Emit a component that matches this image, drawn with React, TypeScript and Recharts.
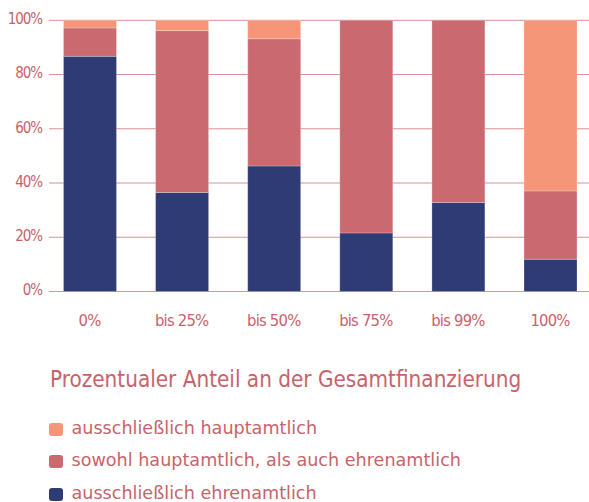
import React from 'react';
import { BarChart, Bar, XAxis, YAxis, CartesianGrid, Legend } from 'recharts';

const categories = ['0%', 'bis 25%', 'bis 50%', 'bis 75%', 'bis 99%', '100%'];
const nurEhrenamtlich = [86.7, 36.5, 46.3, 21.6, 32.8, 11.9];
const beides = [10.5, 59.7, 46.9, 78.4, 67.2, 25.2];
const nurHauptamtlich = [2.8, 3.8, 6.8, 0, 0, 62.9];
const yTicks = [0, 20, 40, 60, 80, 100];

const legendTitle = 'Prozentualer Anteil an der Gesamtfinanzierung';
const nameEhren = 'ausschließlich ehrenamtlich';
const nameBeides = 'sowohl hauptamtlich, als auch ehrenamtlich';
const nameHaupt = 'ausschließlich hauptamtlich';
const legendOrder = [nameHaupt, nameBeides, nameEhren];

const BLUE = '#2e3b74';
const RED = '#ca6a70';
const ORANGE = '#f59678';
const TEXT = '#c8636b';
const GRID = '#dc8f94';

const data = categories.map((cat, i) => ({
  cat,
  ehren: nurEhrenamtlich[i],
  beides: beides[i],
  haupt: nurHauptamtlich[i],
}));

const tickFont = '"DejaVu Sans Condensed", sans-serif';

const renderLegend = (props: any) => {
  const items = [...(props.payload || [])].sort(
    (a: any, b: any) => legendOrder.indexOf(a.value) - legendOrder.indexOf(b.value)
  );
  return (
    <div style={{ width: 589, fontFamily: '"DejaVu Sans", sans-serif', color: TEXT }}>
      <div
        style={{
          fontFamily: '"DejaVu Sans Condensed", sans-serif',
          fontSize: 22.3,
          lineHeight: '26px',
          height: 26,
          paddingLeft: 50,
          whiteSpace: 'nowrap',
        }}
      >
        {legendTitle}
      </div>
      <div style={{ height: 19.7 }} />
      {items.map((it: any) => (
        <div
          key={it.value}
          style={{ position: 'relative', height: 32.5, lineHeight: '32.5px', fontSize: 17.6, whiteSpace: 'nowrap' }}
        >
          <span
            style={{
              position: 'absolute',
              left: 48.5,
              top: 11,
              width: 14,
              height: 13,
              borderRadius: 3,
              background: it.color,
            }}
          />
          <span style={{ position: 'absolute', left: 71.5, top: 0 }}>{it.value}</span>
        </div>
      ))}
    </div>
  );
};

export default function App() {
  return (
    <div style={{ position: 'absolute', left: 0, top: 0, width: 589, height: 502, overflow: 'hidden', background: '#fff' }}>
      <BarChart
        width={597}
        height={502}
        data={data}
        margin={{ top: 20.3, right: 0.9, bottom: 180.5, left: 0 }}
      >
        <CartesianGrid x={49} width={560} horizontal={true} vertical={false} stroke={GRID} strokeWidth={1} />
        <XAxis
          dataKey="cat"
          tickLine={false}
          axisLine={false}
          tickSize={0}
          tickMargin={23}
          interval={0}
          tick={{ fill: TEXT, fontSize: 16.5, fontFamily: tickFont, letterSpacing: -0.8 }}
        />
        <YAxis
          width={43.5}
          domain={[0, 100]}
          ticks={yTicks}
          tickFormatter={(v: number) => `${v}%`}
          tickLine={false}
          axisLine={false}
          tickSize={0}
          tickMargin={1.5}
          tick={{ fill: TEXT, fontSize: 15, fontFamily: tickFont, letterSpacing: -1.1, dy: -1.5 }}
        />
        <Legend
          layout="horizontal"
          verticalAlign="middle"
          align="center"
          wrapperStyle={{ top: 366, left: 0, width: 589 }}
          content={renderLegend}
        />
        <Bar dataKey="ehren" name={nameEhren} stackId="a" fill={BLUE} barSize={53} stroke="rgba(255,255,255,0.25)" strokeWidth={1} isAnimationActive={false} />
        <Bar dataKey="beides" name={nameBeides} stackId="a" fill={RED} barSize={53} stroke="rgba(255,255,255,0.25)" strokeWidth={1} isAnimationActive={false} />
        <Bar dataKey="haupt" name={nameHaupt} stackId="a" fill={ORANGE} barSize={53} stroke="rgba(255,255,255,0.25)" strokeWidth={1} isAnimationActive={false} />
      </BarChart>
    </div>
  );
}
